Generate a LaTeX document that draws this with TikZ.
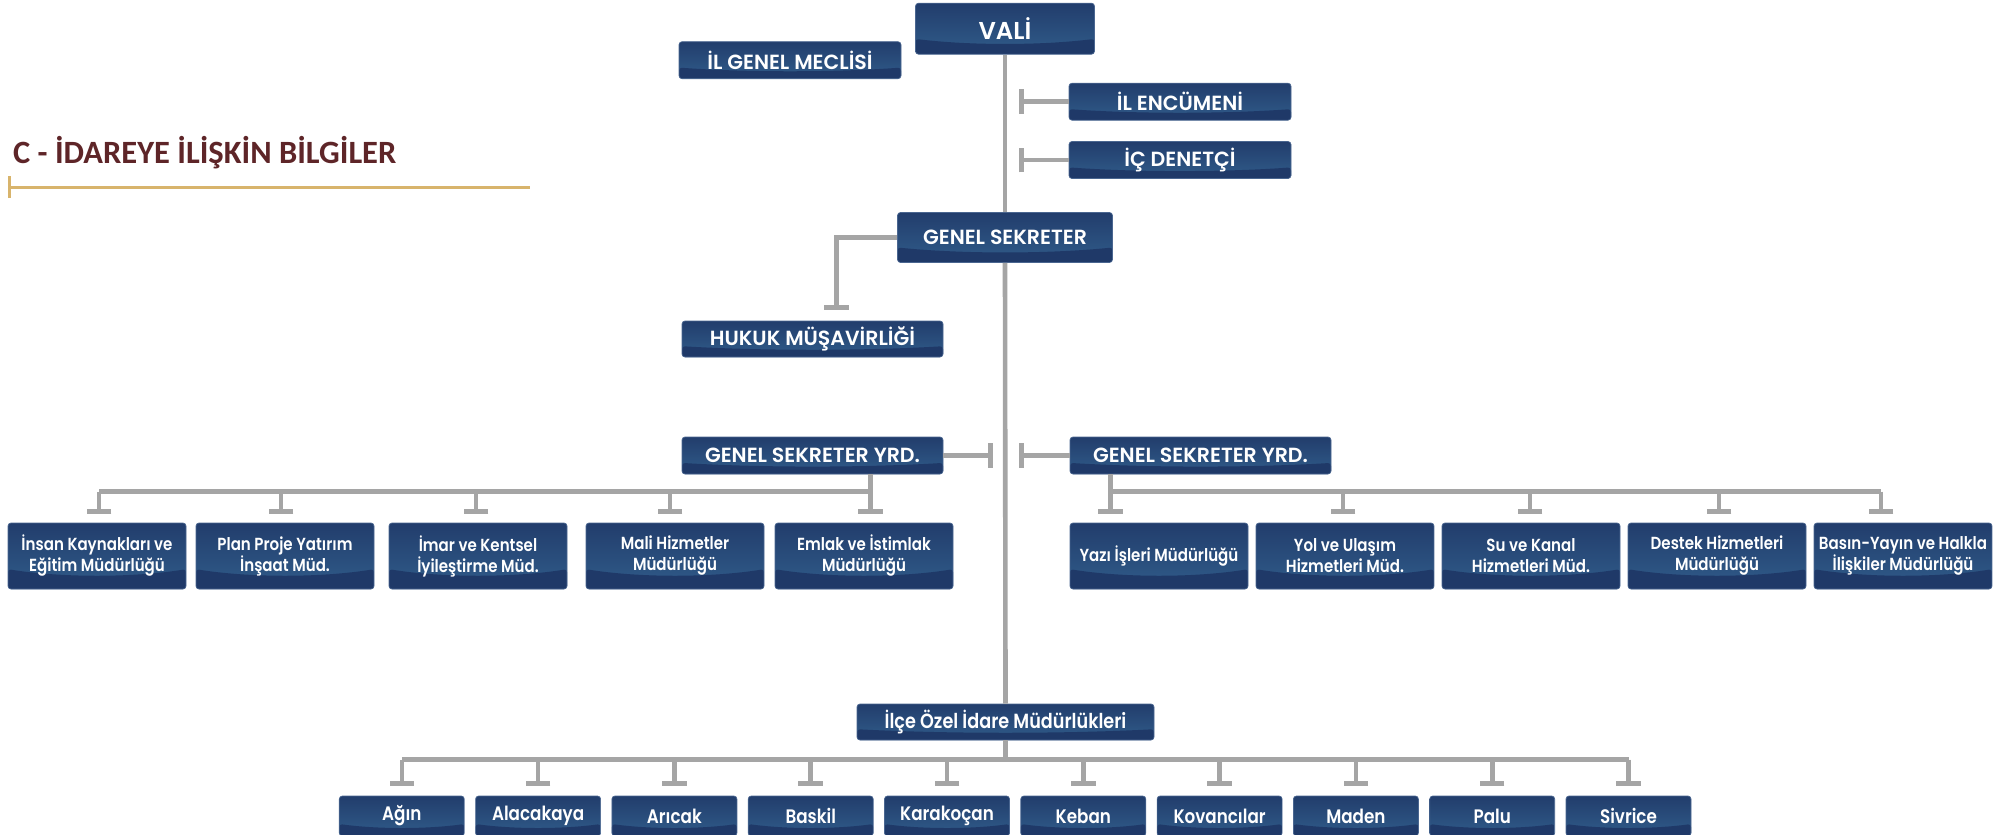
\documentclass[tikz,border=0pt]{standalone}
\usepackage{fontspec}
\setmainfont{Poppins}
\newfontfamily\titlefont{Carlito}
\IfFontExistsTF{Poppins SemiBold}
  {\newfontfamily\boxfontU{Poppins SemiBold}\newfontfamily\boxfontL{Poppins SemiBold}[FakeStretch=0.86]\newcommand\bxw{}}
  {\newfontfamily\boxfontU{Poppins}\newfontfamily\boxfontL{Poppins}[FakeStretch=0.86]\newcommand\bxw{\bfseries}}
\usetikzlibrary{arrows.meta,calc}
\definecolor{boxtop}{HTML}{223D6C}
\definecolor{boxmid}{HTML}{305C8A}
\definecolor{boxbot}{HTML}{1F3968}
\definecolor{boxedge}{HTML}{4A6690}
\definecolor{conngray}{HTML}{A5A5A5}
\definecolor{titlered}{HTML}{5E2528}
\definecolor{goldline}{HTML}{D8B46C}
\begin{document}
\begin{tikzpicture}[x=1pt,y=-1pt,
  box/.style={rectangle, rounded corners=3pt, inner sep=0pt, align=center,
    text=white, draw=boxedge, line width=0.7pt, top color=boxtop, bottom color=boxmid,
    path picture={
      \fill[boxbot] let \p1=(path picture bounding box.south west),
        \p2=(path picture bounding box.north east) in
        (\x1,\y1) -- (\x1,{\y1+0.30*(\y2-\y1)})
        .. controls ({\x1+0.3*(\x2-\x1)},{\y1+0.17*(\y2-\y1)}) and ({\x1+0.7*(\x2-\x1)},{\y1+0.17*(\y2-\y1)})
        .. (\x2,{\y1+0.30*(\y2-\y1)}) -- (\x2,\y1) -- cycle;
    }},
  capsbox/.style={box, font=\boxfontU\bxw\fontsize{20.5}{24}\selectfont, minimum height=37pt, minimum width=222pt},
  rowbox/.style={box, font=\boxfontL\bxw\fontsize{17.5}{21}\selectfont, minimum width=178pt, minimum height=66pt},
  distbox/.style={box, font=\boxfontL\bxw\fontsize{19.5}{23}\selectfont, minimum width=125pt, minimum height=40pt},
  conn/.style={draw=conngray, line width=4.6pt},
  tee/.style={-{Bar[width=24.5pt,line width=5pt]}},
]
\useasboundingbox (0,0) rectangle (2011,835);
\clip (0,0) rectangle (2011,835);

% title
\node[anchor=base west, inner sep=0pt, text=titlered, font=\titlefont\bfseries\fontsize{32.5}{36}\selectfont] (title) at (13,163) {C - İDAREYE İLİŞKİN BİLGİLER};
\draw[goldline, line width=3pt, {Bar[width=22pt,line width=3pt]}-] (7.7,187) -- (530,187);

% top level
\node[box, font=\boxfontU\bxw\fontsize{24.4}{28}\selectfont, minimum width=179pt, minimum height=51pt] (vali) at (1005,28.7) {VALİ};
\node[capsbox] (meclis) at (790,60.2) {İL GENEL MECLİSİ};
\node[capsbox] (enc) at (1180,101.7) {İL ENCÜMENİ};
\node[capsbox] (ic) at (1180,160) {İÇ DENETÇİ};
\node[capsbox, minimum width=215pt, minimum height=50pt] (gs) at (1005,237.5) {GENEL SEKRETER};
\node[capsbox, minimum width=261pt, minimum height=36pt] (huk) at (812.5,339) {HUKUK MÜŞAVİRLİĞİ};
\node[capsbox, minimum width=261pt] (gsyl) at (812.5,455.5) {GENEL SEKRETER YRD.};
\node[capsbox, minimum width=261pt] (gsyr) at (1200.5,455.5) {GENEL SEKRETER YRD.};
\node[box, font=\boxfontL\bxw\fontsize{20.5}{24}\selectfont, minimum width=297pt, minimum height=36pt] (ilce) at (1005.5,722) {İlçe Özel İdare Müdürlükleri};

% left row
\node[rowbox] (l1) at (97,556) {İnsan Kaynakları ve\\Eğitim Müdürlüğü};
\node[rowbox] (l2) at (285,556) {Plan Proje Yatırım\\İnşaat Müd.};
\node[rowbox] (l3) at (478,556) {İmar ve Kentsel\\İyileştirme Müd.};
\node[rowbox] (l4) at (675,556) {Mali Hizmetler\\Müdürlüğü};
\node[rowbox] (l5) at (864,556) {Emlak ve İstimlak\\Müdürlüğü};

% right row
\node[rowbox] (r1) at (1159,556) {Yazı İşleri Müdürlüğü};
\node[rowbox] (r2) at (1345,556) {Yol ve Ulaşım\\Hizmetleri Müd.};
\node[rowbox] (r3) at (1531,556) {Su ve Kanal\\Hizmetleri Müd.};
\node[rowbox] (r4) at (1717,556) {Destek Hizmetleri\\Müdürlüğü};
\node[rowbox] (r5) at (1903,556) {Basın-Yayın ve Halkla\\İlişkiler Müdürlüğü};

% district row
\node[distbox] (b1) at (401.8,816) {Ağın};
\node[distbox] (b2) at (538.1,816) {Alacakaya};
\node[distbox] (b3) at (674.4,816) {Arıcak};
\node[distbox] (b4) at (810.7,816) {Baskil};
\node[distbox] (b5) at (947.0,816) {Karakoçan};
\node[distbox] (b6) at (1083.3,816) {Keban};
\node[distbox] (b7) at (1219.6,816) {Kovancılar};
\node[distbox] (b8) at (1355.9,816) {Maden};
\node[distbox] (b9) at (1492.2,816) {Palu};
\node[distbox] (b10) at (1628.5,816) {Sivrice};

% connector end points
\coordinate (encT) at (1018.5,101.7);
\coordinate (icT) at (1018.5,160);
\coordinate (hukT) at (836.5,309.5);
\coordinate (gslT) at (992.5,455.5);
\coordinate (gsrT) at (1018.5,455.5);
\coordinate (ld1) at (99,491.5);
\coordinate (ld2) at (281,491.5);
\coordinate (ld3) at (476,491.5);
\coordinate (ld4) at (670,491.5);
\coordinate (ld5) at (870.5,491.5);
\coordinate (rd1) at (1110.5,491.5);
\coordinate (rd2) at (1343,491.5);
\coordinate (rd3) at (1530,491.5);
\coordinate (rd4) at (1719,491.5);
\coordinate (rd5) at (1881,491.5);
\coordinate (bbus) at (0,759.7);

% main spine
\draw[conn] (vali.south) -- (gs.north);
\draw[conn] (gs.south) -- (ilce.north);
\draw[conn,tee] (enc.west) -- (encT);
\draw[conn,tee] (ic.west) -- (icT);
\draw[conn,tee] (gs.west) -| (hukT);
\draw[conn,tee] (gsyl.east) -- (gslT);
\draw[conn,tee] (gsyr.west) -- (gsrT);

% left branch
\draw[conn] (gsyl.south -| ld5) -- (ld5) -- (ld1);
\foreach \n in {1,2,3,4,5}{
  \coordinate (l\n t) at ([yshift=8.5pt]l\n.north);
  \draw[conn,tee] (ld\n) -- (ld\n |- l\n t);
}

% right branch
\draw[conn] (gsyr.south -| rd1) -- (rd1) -- (rd5);
\foreach \n in {1,2,3,4,5}{
  \coordinate (r\n t) at ([yshift=8.5pt]r\n.north);
  \draw[conn,tee] (rd\n) -- (rd\n |- r\n t);
}

% district branch
\draw[conn] (ilce.south) -- (ilce.south |- bbus);
\draw[conn] (b1.north |- bbus) -- (b10.north |- bbus);
\foreach \n in {1,...,10}{
  \coordinate (b\n t) at ([yshift=9.5pt]b\n.north);
  \draw[conn,tee] (b\n.north |- bbus) -- (b\n t);
}
\end{tikzpicture}
\end{document}
